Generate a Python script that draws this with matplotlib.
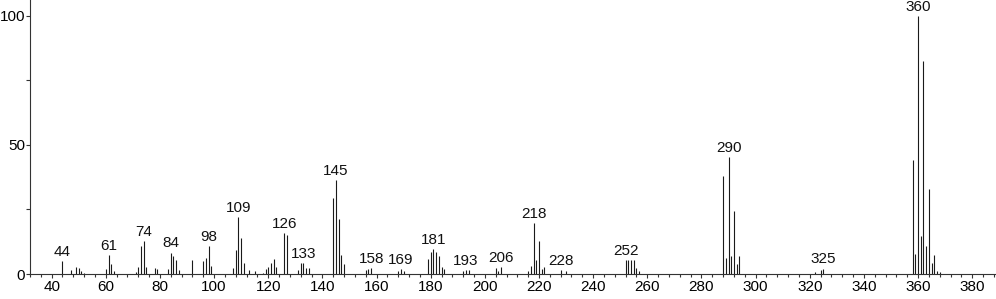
#!/usr/bin/env python

# mass spectrum, stick plot with labelled main peaks

import matplotlib
matplotlib.use("Agg")
import matplotlib.pyplot as plt
from matplotlib.ticker import MultipleLocator

mz = [44, 47, 49, 50, 51, 52,
      60, 61, 62, 63, 71, 72, 73, 74, 75, 78, 79,
      83, 84, 85, 86, 87, 92, 96, 97, 98, 99,
      107, 108, 109, 110, 111, 113, 115, 118, 119, 120, 121, 122, 123,
      126, 127, 131, 132, 133, 134, 135, 144, 145, 146, 147, 148,
      156, 157, 158, 168, 169, 170, 179, 180, 181, 182, 183, 184, 185,
      192, 193, 194, 204, 205, 206, 216, 217, 218, 219, 220, 221, 222,
      228, 230, 252, 253, 254, 255, 256, 257,
      288, 289, 290, 291, 292, 293, 294, 322, 324, 325,
      358, 359, 360, 361, 362, 363, 364, 365, 366, 367, 368]
intensity = [5.0, 1.5, 2.7, 2.4, 1.0, 0.5,
             2.1, 7.4, 3.7, 1.2, 0.8, 2.8, 10.8, 12.8, 2.8, 2.3, 2.1,
             2.1, 8.3, 7.0, 5.4, 1.4, 5.4, 5.2, 6.2, 10.8, 3.1,
             2.5, 9.3, 21.9, 13.9, 4.1, 1.5, 1.0, 0.5, 2.1, 2.6, 4.1, 5.7, 2.6,
             16.0, 15.2, 1.5, 4.1, 4.4, 2.5, 2.2, 29.3, 36.4, 21.2, 7.5, 3.7,
             1.5, 1.8, 2.2, 1.3, 1.8, 1.3, 5.7, 8.5, 9.8, 8.5, 7.0, 2.8, 2.1,
             1.3, 1.5, 1.5, 2.3, 1.0, 2.7, 1.3, 3.1, 19.6, 5.4, 12.9, 1.8, 2.6,
             1.5, 1.0, 5.4, 5.4, 5.4, 5.4, 2.2, 1.3,
             38.1, 6.3, 45.2, 7.0, 24.4, 3.9, 7.0, 0.6, 1.5, 2.1,
             44.1, 7.7, 100.0, 14.7, 82.5, 10.8, 32.9, 4.1, 7.4, 1.3, 0.9]
labelled = [44, 61, 74, 84, 98, 109, 126, 133, 145, 158, 169, 181,
            193, 206, 218, 228, 252, 290, 325, 360]

plt.rcParams['font.family'] = ['Liberation Sans', 'DejaVu Sans']

fig = plt.figure(figsize=(9.96, 2.99), dpi=100)
ax = fig.add_axes([30 / 996, 25 / 299, 966 / 996, 274 / 299])

ax.vlines(mz, 0, intensity, color='#1a1a1a', lw=0.8)

peaks = dict(zip(mz, intensity))
for m in labelled:
  ax.annotate(str(m), (m, peaks[m]), xytext=(0, 1.5), textcoords='offset points',
              ha='center', va='bottom', fontsize=11, color='#111111')

ax.set_xlim(32, 388.8)
ax.set_ylim(0, 106.1)
ax.xaxis.set_major_locator(MultipleLocator(20))
ax.xaxis.set_minor_locator(MultipleLocator(4))
ax.yaxis.set_major_locator(MultipleLocator(50))
ax.yaxis.set_minor_locator(MultipleLocator(25))

for s in ['top', 'right']:
  ax.spines[s].set_visible(False)
for s in ['left', 'bottom']:
  ax.spines[s].set_color('#333333')
  ax.spines[s].set_linewidth(0.8)

ax.tick_params(axis='both', which='major', length=3, width=0.8, color='#333333',
               labelsize=11)
ax.tick_params(axis='x', which='major', pad=1.5)
ax.tick_params(axis='y', which='major', pad=0.5)
ax.tick_params(axis='both', which='minor', length=2.5, width=0.8, color='#333333')
ax.tick_params(axis='y', which='minor', length=3)

fig.savefig('out.png', dpi=100)
